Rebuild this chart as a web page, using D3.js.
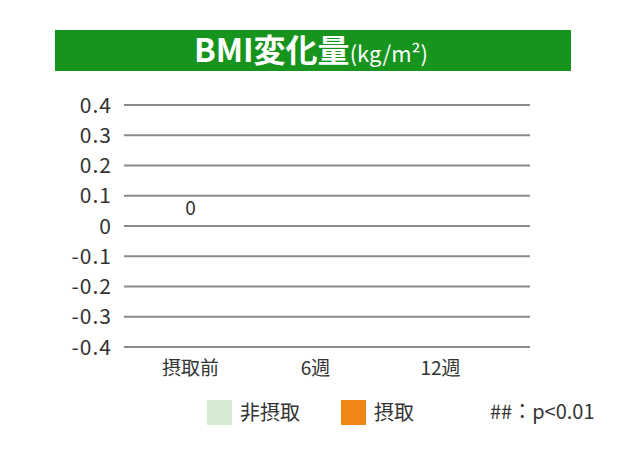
<!DOCTYPE html>
<html>
<head>
<meta charset="utf-8">
<script src="https://cdn.jsdelivr.net/npm/d3@7"></script>
<style>
  body { margin: 0; background: #fff; }
  svg text { font-family: "Noto Sans CJK JP", "Noto Sans", sans-serif; }
</style>
</head>
<body>
<div id="chart"></div>
<script>
const categories = ['摂取前', '6週', '12週'];
const seriesNames = ['非摂取', '摂取'];
const nonIntake = [0, null, null];
const intake = [0, null, null];
const valueLabels = ['0', null, null];
const yTicks = [0.4, 0.3, 0.2, 0.1, 0, -0.1, -0.2, -0.3, -0.4];
const seriesColors = ['#d5ecd2', '#ef8717'];

const width = 622, height = 460;

const svg = d3.select('#chart').append('svg')
  .attr('width', width)
  .attr('height', height);

// title bar
svg.append('rect')
  .attr('x', 55).attr('y', 30)
  .attr('width', 516).attr('height', 41)
  .attr('fill', '#16941e');

const title = svg.append('text')
  .attr('x', 311).attr('y', 62)
  .attr('text-anchor', 'middle')
  .attr('fill', '#fff');
title.append('tspan').attr('font-size', 32).attr('font-weight', 'bold').text('BMI変化量');
title.append('tspan').attr('font-size', 22).text('(kg/m²)');

const y = d3.scaleLinear().domain([-0.4, 0.4]).range([347, 105]);
const x = d3.scaleBand().domain(categories).range([128, 503]);
const xs = d3.scaleBand().domain(seriesNames).range([0, x.bandwidth()]).paddingInner(0.1).paddingOuter(0.3);

// gridlines
svg.append('g')
  .selectAll('line')
  .data(yTicks)
  .enter()
  .append('line')
  .attr('x1', 124).attr('x2', 530)
  .attr('y1', d => y(d)).attr('y2', d => y(d))
  .attr('stroke', '#8a8a8a')
  .attr('stroke-width', 2);

// y labels (plain hyphen for negatives, as in the original)
svg.append('g')
  .selectAll('text')
  .data(yTicks)
  .enter()
  .append('text')
  .attr('x', 112)
  .attr('y', d => y(d))
  .attr('dy', '0.36em')
  .attr('text-anchor', 'end')
  .attr('font-family', '"Noto Sans", sans-serif')
  .attr('font-size', 21)
  .attr('letter-spacing', 1)
  .attr('fill', '#333')
  .text(d => d === 0 ? '0' : d.toFixed(1));

// x labels
svg.append('g')
  .selectAll('text')
  .data(categories)
  .enter()
  .append('text')
  .attr('x', d => x(d) + x.bandwidth() / 2)
  .attr('y', 375)
  .attr('text-anchor', 'middle')
  .attr('font-size', 19)
  .attr('fill', '#333')
  .text(d => d);

// bars (zero height where value is 0)
const seriesData = [nonIntake, intake];
seriesData.forEach((vals, si) => {
  svg.append('g')
    .selectAll('rect')
    .data(vals.map((v, i) => ({ cat: categories[i], v })).filter(d => d.v !== null))
    .enter()
    .append('rect')
    .attr('x', d => x(d.cat) + xs(seriesNames[si]))
    .attr('width', xs.bandwidth())
    .attr('y', d => y(Math.max(0, d.v)))
    .attr('height', d => Math.abs(y(d.v) - y(0)))
    .attr('fill', seriesColors[si]);
});

// value labels
svg.append('g')
  .selectAll('text')
  .data(valueLabels.map((t, i) => ({ cat: categories[i], t })).filter(d => d.t !== null))
  .enter()
  .append('text')
  .attr('x', d => x(d.cat) + x.bandwidth() / 2)
  .attr('y', y(0) - 11)
  .attr('text-anchor', 'middle')
  .attr('font-size', 19)
  .attr('fill', '#333')
  .text(d => d.t);

// legend
const legendX = [207, 341];
const legend = svg.append('g');
seriesNames.forEach((name, i) => {
  legend.append('rect')
    .attr('x', legendX[i]).attr('y', 400)
    .attr('width', 25).attr('height', 25)
    .attr('fill', seriesColors[i]);
  legend.append('text')
    .attr('x', legendX[i] + 33).attr('y', 420)
    .attr('font-size', 20)
    .attr('fill', '#333')
    .text(name);
});
legend.append('text')
  .attr('x', 490).attr('y', 419)
  .attr('font-size', 20)
  .attr('fill', '#333')
  .text('##：p<0.01');
</script>
</body>
</html>
